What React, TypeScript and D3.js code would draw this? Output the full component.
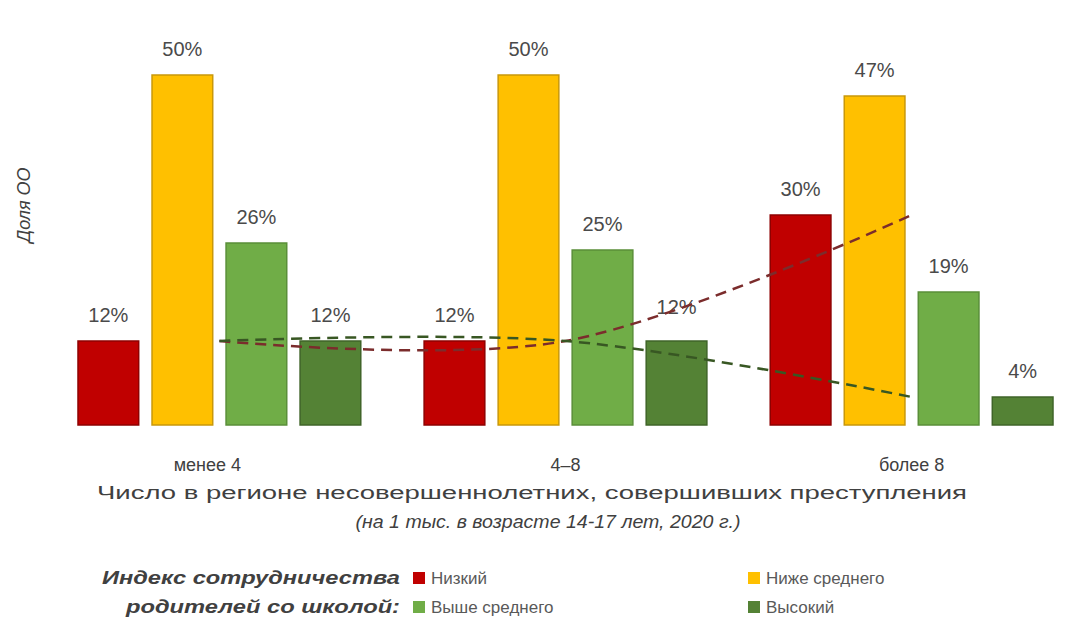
import { useEffect, useRef } from "react"
import * as d3 from "d3"

const categories = ["менее 4", "4–8", "более 8"]
const seriesNames = ["Низкий", "Ниже среднего", "Выше среднего", "Высокий"]
const lowValues = [12, 12, 30]
const belowAvgValues = [50, 50, 47]
const aboveAvgValues = [26, 25, 19]
const highValues = [12, 12, 4]

const colors = ["#c00000", "#ffc000", "#70ad47", "#548235"]
const edgeColors = ["#8e0000", "#c9980a", "#5a8f39", "#3f6428"]

const yLabel = "Доля ОО"
const xTitle1 = "Число в регионе несовершеннолетних, совершивших преступления"
const xTitle2 = "(на 1 тыс. в возрасте 14-17 лет, 2020 г.)"
const legendTitle = ["Индекс сотрудничества", "родителей со школой:"]

const FONT = "'Liberation Sans', 'DejaVu Sans', sans-serif"

export default function App() {
  const svgRef = useRef<SVGSVGElement>(null)
  const width = 1076
  const height = 644

  useEffect(() => {
    if (!svgRef.current) return
    const svg = d3.select(svgRef.current)
    svg.selectAll("*").remove()

    const values = [lowValues, belowAvgValues, aboveAvgValues, highValues]

    const x0 = d3.scaleBand<string>()
      .domain(categories)
      .range([78, 1053])
      .paddingInner(0.183)
      .paddingOuter(0)

    const x1 = d3.scaleBand<string>()
      .domain(seriesNames)
      .range([0, x0.bandwidth()])
      .paddingInner(0.18)

    const y = d3.scaleLinear()
      .domain([0, 50])
      .range([425, 75])

    svg.append("rect")
      .attr("width", width)
      .attr("height", height)
      .attr("fill", "#fff")

    // Bars
    categories.forEach((cat, ci) => {
      const g = svg.append("g").attr("transform", `translate(${x0(cat)},0)`)
      seriesNames.forEach((s, si) => {
        const v = values[si][ci]
        g.append("rect")
          .attr("x", x1(s)!)
          .attr("y", y(v))
          .attr("width", x1.bandwidth())
          .attr("height", y(0) - y(v))
          .attr("fill", colors[si])
          .attr("stroke", edgeColors[si])
          .attr("stroke-width", 1.5)

        // the label over the middle "Высокий" bar sits a bit higher, clear of the trend line
        const lift = ci === 1 && si === 3 ? 8 : 0
        g.append("text")
          .attr("x", x1(s)! + x1.bandwidth() / 2)
          .attr("y", y(v) - 19 - lift)
          .attr("text-anchor", "middle")
          .attr("font-family", FONT)
          .attr("font-size", 20)
          .attr("fill", "#4a4a4a")
          .text(`${v}%`)
      })
    })

    // Smoothed dashed trend lines for "Низкий" and "Высокий"
    const trend = d3.line<number>()
      .x((_, i) => x0(categories[i])! + x0.bandwidth() / 2)
      .y(d => y(d))
      .curve(d3.curveCatmullRom.alpha(0))

    svg.append("path")
      .datum(lowValues)
      .attr("d", trend)
      .attr("fill", "none")
      .attr("stroke", "#7b2c2c")
      .attr("stroke-width", 2.5)
      .attr("stroke-dasharray", "11,7")

    svg.append("path")
      .datum(highValues)
      .attr("d", trend)
      .attr("fill", "none")
      .attr("stroke", "#385723")
      .attr("stroke-width", 2.5)
      .attr("stroke-dasharray", "11,7")

    // Category labels
    svg.append("g")
      .selectAll("text")
      .data(categories)
      .join("text")
      .attr("x", d => x0(d)! + x0.bandwidth() / 2 - (d === "менее 4" ? 12 : 0))
      .attr("y", 471)
      .attr("text-anchor", "middle")
      .attr("font-family", FONT)
      .attr("font-size", 18)
      .attr("fill", "#404040")
      .text(d => d)

    // Axis titles
    svg.append("text")
      .attr("x", 532)
      .attr("y", 499)
      .attr("text-anchor", "middle")
      .attr("font-family", FONT)
      .attr("font-size", 18)
      .attr("fill", "#404040")
      .attr("textLength", 870)
      .attr("lengthAdjust", "spacingAndGlyphs")
      .text(xTitle1)

    svg.append("text")
      .attr("x", 548)
      .attr("y", 528)
      .attr("text-anchor", "middle")
      .attr("font-family", FONT)
      .attr("font-size", 18)
      .attr("font-style", "italic")
      .attr("fill", "#404040")
      .attr("textLength", 385)
      .attr("lengthAdjust", "spacingAndGlyphs")
      .text(xTitle2)

    svg.append("text")
      .attr("transform", "translate(30,205) rotate(-90)")
      .attr("text-anchor", "middle")
      .attr("font-family", FONT)
      .attr("font-size", 18)
      .attr("font-style", "italic")
      .attr("fill", "#404040")
      .text(yLabel)

    // Legend
    const titleLengths = [298, 274]
    legendTitle.forEach((t, i) => {
      svg.append("text")
        .attr("x", 400)
        .attr("y", 584 + i * 29)
        .attr("text-anchor", "end")
        .attr("font-family", FONT)
        .attr("font-size", 18)
        .attr("font-weight", "bold")
        .attr("font-style", "italic")
        .attr("fill", "#404040")
        .attr("textLength", titleLengths[i])
        .attr("lengthAdjust", "spacingAndGlyphs")
        .text(t)
    })

    const legendPos = [
      { x: 413, y: 578 },
      { x: 748, y: 578 },
      { x: 413, y: 607 },
      { x: 748, y: 607 },
    ]
    seriesNames.forEach((s, i) => {
      const p = legendPos[i]
      svg.append("rect")
        .attr("x", p.x)
        .attr("y", p.y - 6)
        .attr("width", 12)
        .attr("height", 12)
        .attr("fill", colors[i])
      svg.append("text")
        .attr("x", p.x + 18)
        .attr("y", p.y + 6)
        .attr("font-family", FONT)
        .attr("font-size", 17)
        .attr("fill", "#595959")
        .text(s)
    })
  }, [])

  return (
    <svg
      ref={svgRef}
      width={width}
      height={height}
      style={{ position: "absolute", left: 0, top: 0 }}
    />
  )
}
